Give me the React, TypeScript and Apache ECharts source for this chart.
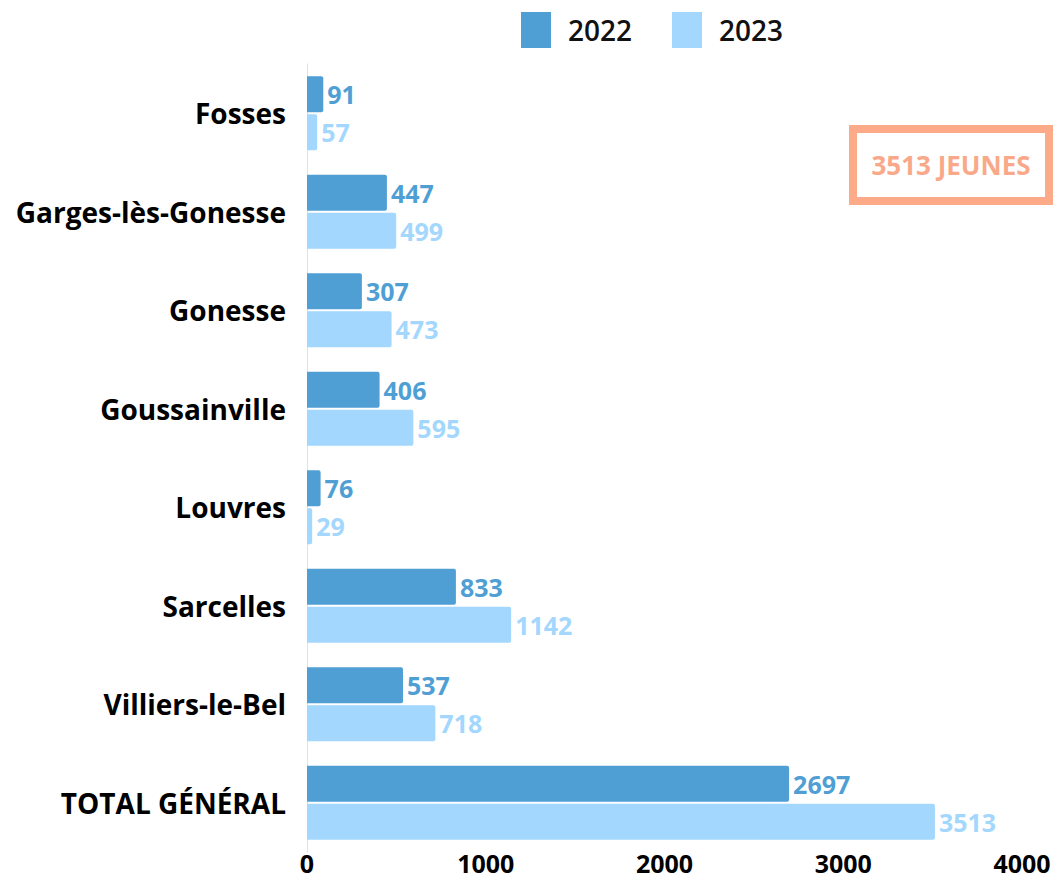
import React, { useEffect, useRef } from "react";
import * as echarts from "echarts";

const categories = [
  "Fosses",
  "Garges-lès-Gonesse",
  "Gonesse",
  "Goussainville",
  "Louvres",
  "Sarcelles",
  "Villiers-le-Bel",
  "TOTAL GÉNÉRAL",
];
const values2022 = [91, 447, 307, 406, 76, 833, 537, 2697];
const values2023 = [57, 499, 473, 595, 29, 1142, 718, 3513];
const seriesNames = ["2022", "2023"];
const xTicks = [0, 1000, 2000, 3000, 4000];
const boxText = "3513 JEUNES";

const C2022 = "#4f9fd5";
const C2023 = "#a3d7fd";
const FONT = "Open Sans";

export default function App() {
  const ref = useRef<HTMLDivElement>(null);
  useEffect(() => {
    document.body.style.margin = "0";
    const chart = echarts.init(ref.current!, null, { renderer: "svg" });
    chart.setOption({
      animation: false,
      textStyle: { fontFamily: FONT },
      legend: {
        left: 516,
        top: 7,
        itemWidth: 30,
        itemHeight: 36,
        itemGap: 40,
        icon: "rect",
        textStyle: { fontSize: 28, fontWeight: 600, color: "#111", fontFamily: FONT, padding: [0, 0, 0, 12] },
        data: seriesNames,
      },
      grid: { left: 307, right: 35, top: 64, bottom: 29, containLabel: false },
      xAxis: {
        type: "value",
        min: xTicks[0],
        max: xTicks[xTicks.length - 1],
        interval: 1000,
        splitLine: { show: false },
        axisLine: { show: false },
        axisTick: { show: false },
        axisLabel: {
          fontSize: 25,
          lineHeight: 25,
          fontWeight: "bold",
          color: "#000",
          margin: -2,
          fontFamily: FONT,
          formatter: (v: number) => String(v),
        },
      },
      yAxis: {
        type: "category",
        inverse: true,
        data: categories,
        axisLine: { show: true, lineStyle: { color: "#e2e2e2" } },
        axisTick: { show: false },
        axisLabel: { fontSize: 28, fontWeight: "bold", color: "#000", margin: 21, fontFamily: FONT },
      },
      series: [
        {
          name: seriesNames[0],
          type: "bar",
          data: values2022,
          barWidth: 36,
          barGap: "6%",
          itemStyle: { color: C2022, borderRadius: [0, 2, 2, 0] },
          label: { show: true, position: "right", distance: 4, color: C2022, fontSize: 25, fontWeight: "bold", fontFamily: FONT },
        },
        {
          name: seriesNames[1],
          type: "bar",
          data: values2023,
          barWidth: 36,
          itemStyle: { color: C2023, borderRadius: [0, 2, 2, 0] },
          label: { show: true, position: "right", distance: 4, color: C2023, fontSize: 25, fontWeight: "bold", fontFamily: FONT },
        },
      ],
      graphic: [
        {
          type: "rect",
          shape: { x: 853, y: 129, width: 196, height: 72 },
          style: { fill: "#fff", stroke: "#fcaa87", lineWidth: 8 },
        },
        {
          type: "text",
          x: 951,
          y: 165,
          style: {
            text: boxText,
            fill: "#f9a98a",
            fontSize: 26,
            fontWeight: "bold",
            fontFamily: FONT,
            align: "center",
            verticalAlign: "middle",
          },
        },
      ],
    });
    return () => chart.dispose();
  }, []);
  return <div ref={ref} style={{ width: 1057, height: 881 }} />;
}
